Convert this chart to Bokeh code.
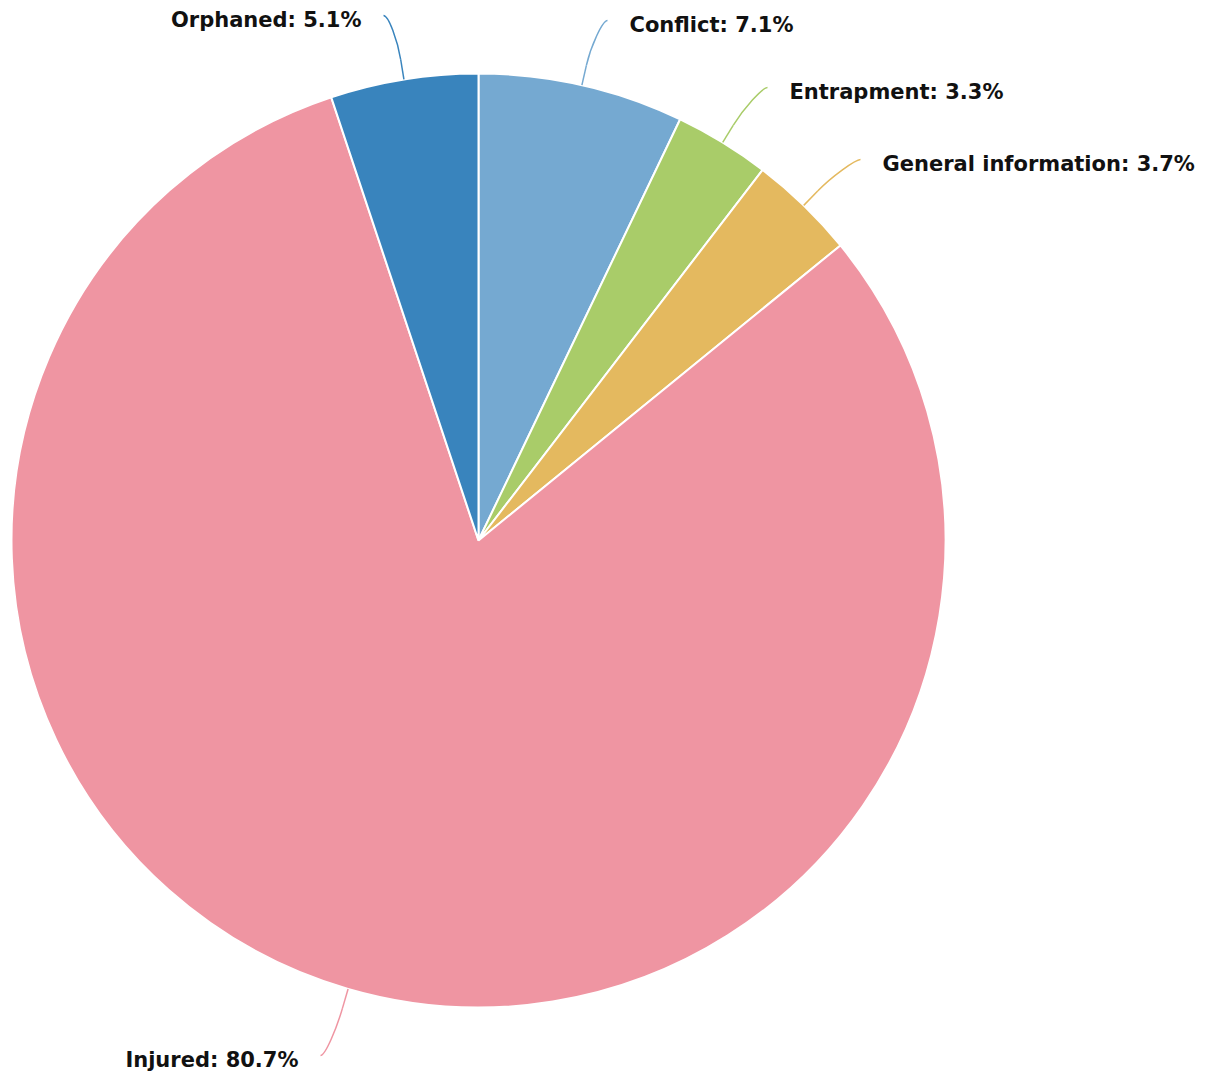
import math
from bokeh.plotting import figure
from bokeh.models import Range1d, ColumnDataSource
from bokeh.core.properties import value
from bokeh.embed import file_html
from bokeh.resources import INLINE

# ---- data ----
categories = ["Conflict", "Entrapment", "General information", "Injured", "Orphaned"]
percentages = [7.1, 3.3, 3.7, 80.7, 5.1]
colors = ["#75a9d1", "#a9cc69", "#e4b95f", "#ef95a2", "#3984bd"]

# ---- layout (picture-pixel coordinates: data x = px, data y = -py) ----
W, H = 1217, 1072
CX, CY, R = 478, -540, 467
BREAK = 20
# connector end points next to each label, and label alignment
label_ends = [(607, -20), (767, -87), (860, -159), (320, -1055), (383, -15)]
label_align = ["left", "left", "left", "right", "right"]

p = figure(width=W, height=H, output_backend="svg", toolbar_location=None,
           x_range=Range1d(0, W), y_range=Range1d(-H, 0),
           min_border=0, outline_line_color=None)
p.axis.visible = False
p.xgrid.visible = False
p.ygrid.visible = False
p.background_fill_color = "white"

total = sum(percentages)
starts, ends, mids = [], [], []
cum = 0.0
for v in percentages:
    a0 = cum / total * 2 * math.pi
    cum += v
    a1 = cum / total * 2 * math.pi
    # clockwise from top -> math angle
    starts.append(math.pi / 2 - a1)
    ends.append(math.pi / 2 - a0)
    mids.append(math.pi / 2 - (a0 + a1) / 2)

src = ColumnDataSource(dict(start=starts, end=ends, color=colors))
p.wedge(x=CX, y=CY, radius=R, start_angle="start", end_angle="end",
        fill_color="color", line_color="white", line_width=2, source=src)

labels_x, labels_y, texts, aligns = [], [], [], []
for cat, v, m, (ex, ey), al, col in zip(categories, percentages, mids, label_ends, label_align, colors):
    tx, ty = CX + R * math.cos(m), CY + R * math.sin(m)
    bx, by = CX + (R + BREAK) * math.cos(m), CY + (R + BREAK) * math.sin(m)
    c1x = ex + (-5 if al == "left" else 5)
    c2x, c2y = 2 * bx - tx, 2 * by - ty
    p.bezier(x0=[ex], y0=[ey], x1=[bx], y1=[by], cx0=[c1x], cy0=[ey],
             cx1=[c2x], cy1=[c2y], line_color=col, line_width=1.5)
    p.line([bx, tx], [by, ty], line_color=col, line_width=1.5)
    labels_x.append(ex + (22 if al == "left" else -22))
    labels_y.append(ey - 4)
    texts.append(f"{cat}: {v}%")
    aligns.append(al)

lsrc = ColumnDataSource(dict(x=labels_x, y=labels_y, text=texts, align=aligns))
p.text(x="x", y="y", text="text", text_align="align", text_baseline="middle",
       text_font=value("DejaVu Sans"), text_font_style="bold",
       text_font_size="21px", text_color="#111111", source=lsrc)

open("out.html", "w").write(file_html(p, INLINE))
